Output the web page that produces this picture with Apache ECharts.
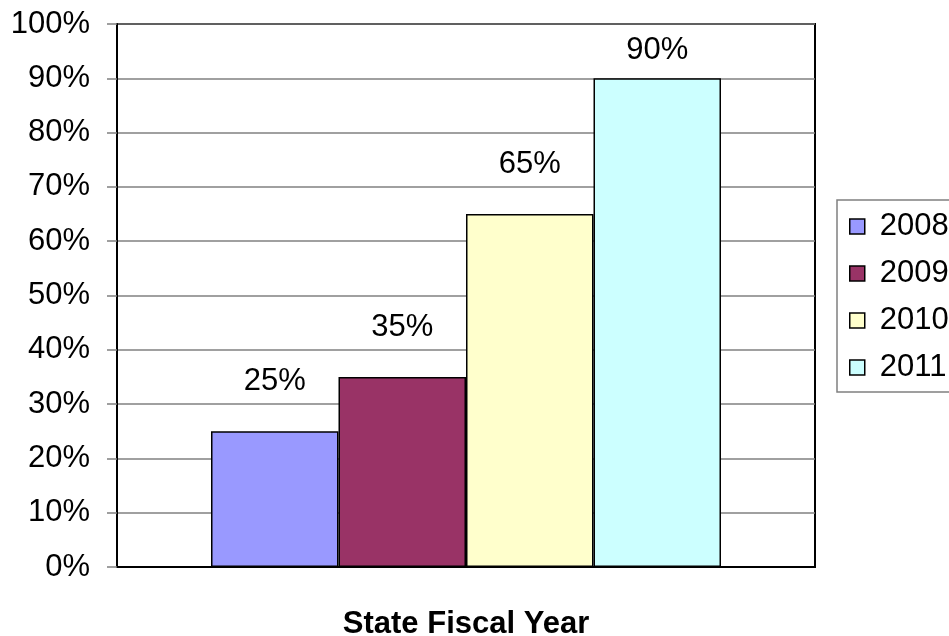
<!DOCTYPE html>
<html>
<head>
<meta charset="utf-8">
<script src="https://cdn.jsdelivr.net/npm/echarts@6/dist/echarts.min.js"></script>
<style>
  html, body { margin: 0; padding: 0; background: #fff; }
  #chart { width: 949px; height: 636px; }
</style>
</head>
<body>
<div id="chart"></div>
<script>
// Share by state fiscal year
const years = ['2008', '2009', '2010', '2011'];
const values = [25, 35, 65, 90];
const colors = ['#9999FF', '#993366', '#FFFFCC', '#CCFFFF'];
const category = ['State Fiscal Year'];

const FONT = '"Liberation Sans", Arial, sans-serif';
const SIZE = 31;

const chart = echarts.init(document.getElementById('chart'), null, { renderer: 'canvas' });

const series = years.map((y, i) => ({
  name: y,
  type: 'bar',
  data: [values[i]],
  barWidth: 127.5,
  barGap: 0,
  itemStyle: { color: colors[i], borderColor: '#000', borderWidth: 1.5 },
  label: {
    show: true,
    position: 'top',
    // the tallest bar keeps its label close so it stays inside the plot
    distance: values[i] >= 90 ? 12 : 34,
    formatter: '{c}%',
    color: '#000',
    fontFamily: FONT,
    fontSize: SIZE
  }
}));

chart.setOption({
  animation: false,
  backgroundColor: '#fff',
  grid: {
    left: 117, right: 134, top: 24, bottom: 69,
    outerBoundsMode: 'none',
    containLabel: false,
    show: true, borderColor: '#000', borderWidth: 2, backgroundColor: 'transparent'
  },
  legend: {
    data: years,
    orient: 'vertical',
    left: 837,
    top: 200,
    itemWidth: 15,
    itemHeight: 15,
    itemGap: 16,
    icon: 'rect',
    padding: [11, 40, 9, 12],
    borderColor: '#808080',
    borderWidth: 1.5,
    backgroundColor: '#fff',
    itemStyle: { borderColor: '#000', borderWidth: 1.5 },
    textStyle: { fontFamily: FONT, fontSize: SIZE, color: '#000', padding: [0, 0, 0, 10] }
  },
  xAxis: {
    type: 'category',
    data: category,
    name: category[0],
    nameLocation: 'middle',
    nameGap: 42,
    nameTextStyle: { fontFamily: FONT, fontSize: SIZE, fontWeight: 'bold', color: '#000' },
    axisLine: { lineStyle: { color: '#000', width: 2 } },
    axisTick: { show: false },
    axisLabel: { show: false }
  },
  yAxis: {
    type: 'value',
    min: 0, max: 100, interval: 10,
    axisLine: { show: true, lineStyle: { color: '#000', width: 2 } },
    axisTick: { show: true, length: 10, inside: false, lineStyle: { color: '#808080', width: 1.5 } },
    axisLabel: { formatter: '{value}%', fontFamily: FONT, fontSize: SIZE, color: '#000', margin: 27 },
    splitLine: { show: true, lineStyle: { color: '#808080', width: 1.5 } }
  },
  series: series
});
</script>
</body>
</html>
